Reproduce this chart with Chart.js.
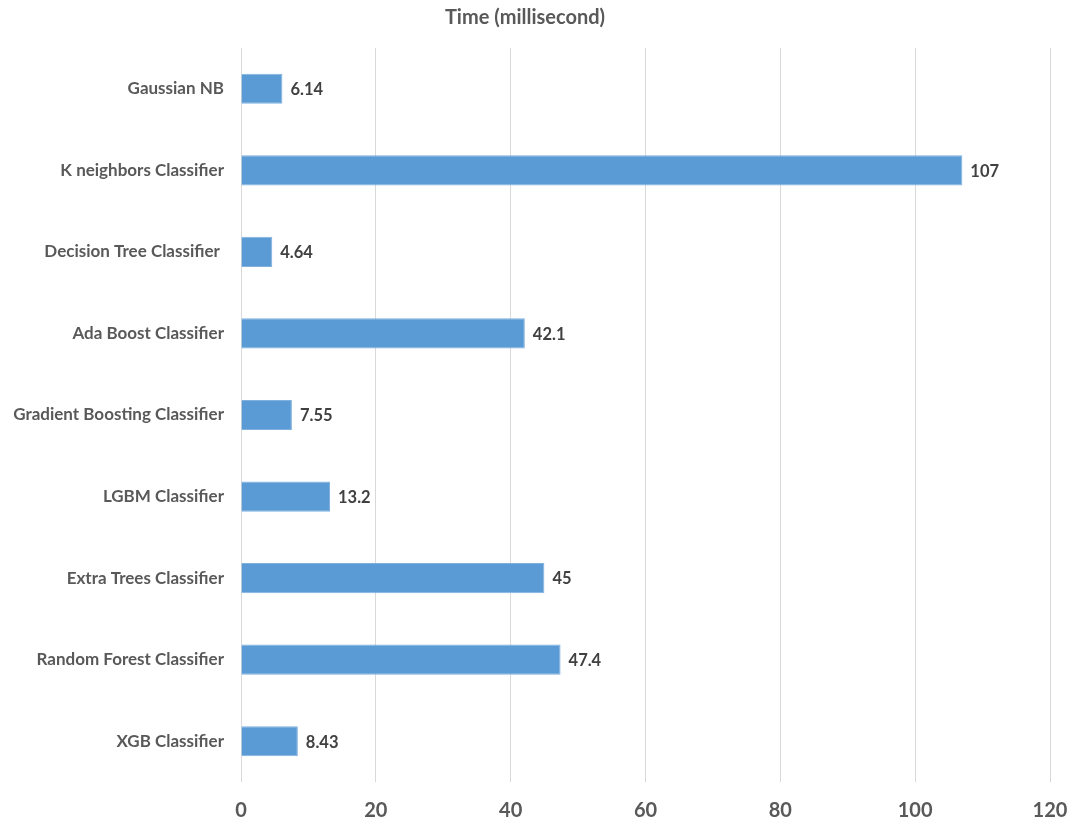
<!DOCTYPE html>
<html>
<head>
<meta charset="utf-8">
<script src="https://cdn.jsdelivr.net/npm/chart.js@4/dist/chart.umd.min.js"></script>
<style>
  html, body { margin: 0; padding: 0; background: #ffffff; }
  #wrap { width: 1068px; height: 823px; position: relative; }
</style>
</head>
<body>
<div id="wrap"><canvas id="chart"></canvas></div>
<script>
// Inference time per model, in milliseconds
const models = [
  'Gaussian NB',
  'K neighbors Classifier',
  'Decision Tree Classifier ',
  'Ada Boost Classifier',
  'Gradient Boosting Classifier',
  'LGBM Classifier',
  'Extra Trees Classifier',
  'Random Forest Classifier',
  'XGB Classifier'
];
const timeMs = [6.14, 107, 4.64, 42.1, 7.55, 13.2, 45, 47.4, 8.43];
const valueLabels = ['6.14', '107', '4.64', '42.1', '7.55', '13.2', '45', '47.4', '8.43'];
const axisTicks = [0, 20, 40, 60, 80, 100, 120];

const FONT = 'Lato, "Open Sans", sans-serif';

// Writes each bar's value just past its end
const barValueLabels = {
  id: 'barValueLabels',
  afterDatasetsDraw(chart) {
    const ctx = chart.ctx;
    const meta = chart.getDatasetMeta(0);
    ctx.save();
    ctx.font = 'bold 16.5px ' + FONT;
    ctx.fillStyle = '#404040';
    ctx.textAlign = 'left';
    ctx.textBaseline = 'middle';
    meta.data.forEach((bar, i) => {
      ctx.fillText(valueLabels[i], bar.x + 8, bar.y + 1);
    });
    ctx.restore();
  }
};

new Chart(document.getElementById('chart'), {
  type: 'bar',
  data: {
    labels: models,
    datasets: [{
      data: timeMs,
      backgroundColor: '#5b9bd5',
      borderColor: '#7fb0de',
      borderWidth: 1,
      barPercentage: 0.37,
      categoryPercentage: 1.0
    }]
  },
  options: {
    indexAxis: 'y',
    responsive: true,
    maintainAspectRatio: false,
    animation: false,
    layout: { padding: { left: 0, right: 18, top: 0, bottom: 0 } },
    plugins: {
      legend: { display: false },
      tooltip: { enabled: false },
      title: {
        display: true,
        text: 'Time (millisecond)',
        color: '#595959',
        font: { family: FONT, size: 20, weight: 'bold' },
        padding: { top: 6, bottom: 18 }
      }
    },
    scales: {
      x: {
        min: axisTicks[0],
        max: axisTicks[axisTicks.length - 1],
        afterBuildTicks(scale) {
          scale.ticks = axisTicks.map(v => ({ value: v }));
        },
        afterFit(scale) {
          scale.height = 41;
          // the outer tick labels may hang past the plot edges
          scale.paddingLeft = 0;
          scale.paddingRight = 0;
        },
        grid: { color: '#d9d9d9', lineWidth: 1, drawTicks: false },
        border: { display: false },
        ticks: {
          color: '#595959',
          padding: 17,
          font: { family: FONT, size: 20, weight: 'bold' }
        }
      },
      y: {
        afterFit(scale) { scale.width = 241; },
        grid: { display: false, drawTicks: false },
        border: { display: false },
        ticks: {
          color: '#595959',
          padding: 17,
          font: { family: FONT, size: 17, weight: 'bold' }
        }
      }
    }
  },
  plugins: [barValueLabels]
});
</script>
</body>
</html>
